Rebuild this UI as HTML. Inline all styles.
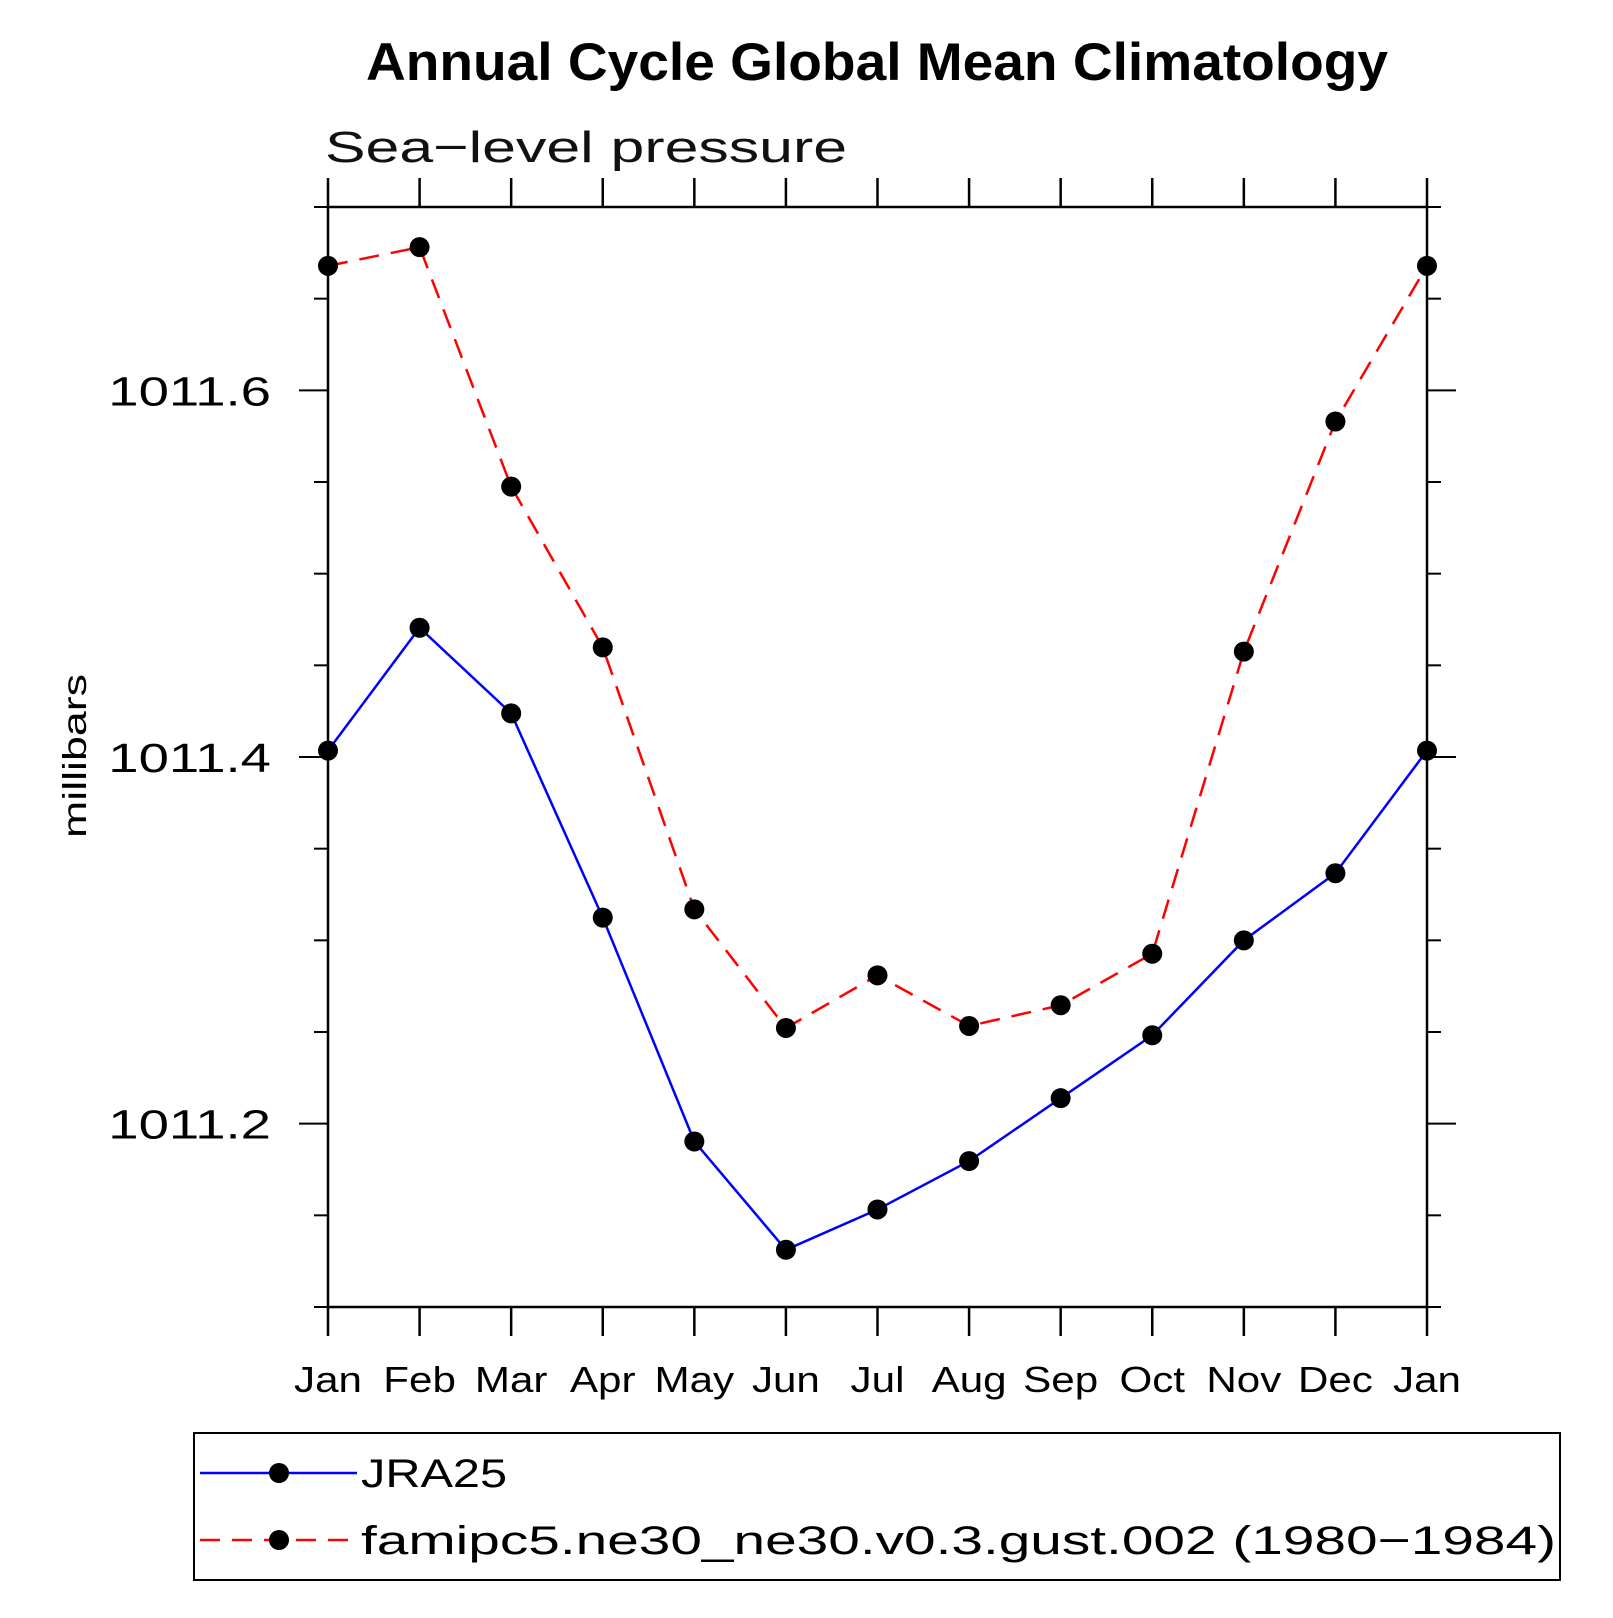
<!DOCTYPE html>
<html><head><meta charset="utf-8"><style>
html,body{margin:0;padding:0;background:#fff;}
svg text{font-family:"Liberation Sans",sans-serif;}
</style></head><body>
<svg id="chart" width="1613" height="1613" viewBox="0 0 1613 1613" xmlns="http://www.w3.org/2000/svg">
<rect x="0" y="0" width="1613" height="1613" fill="#fff"/>
<text x="366" y="80" font-size="53" font-weight="bold" textLength="1022" lengthAdjust="spacingAndGlyphs">Annual Cycle Global Mean Climatology</text>
<text x="325" y="162" font-size="44" fill="#111" textLength="522" lengthAdjust="spacingAndGlyphs">Sea−level pressure</text>
<text transform="translate(86,756) rotate(-90)" text-anchor="middle" font-size="33" textLength="164" lengthAdjust="spacingAndGlyphs">millibars</text>
<g id="axes"></g>
<g id="series"></g>
<g id="legend">
<rect x="194" y="1433" width="1366" height="147" fill="none" stroke="#000" stroke-width="2"/>
<g>
<line x1="200" y1="1473" x2="357" y2="1473" stroke="#0000ff" stroke-width="2.5"/>
<circle cx="279" cy="1473" r="10"/>
<text x="361" y="1487" font-size="40" textLength="146" lengthAdjust="spacingAndGlyphs">JRA25</text>
</g>
<g>
<line x1="200" y1="1540" x2="357" y2="1540" stroke="#ff0000" stroke-width="2.5" stroke-dasharray="20,12"/>
<circle cx="279" cy="1540" r="10"/>
<text x="361" y="1554" font-size="40" textLength="1195" lengthAdjust="spacingAndGlyphs">famipc5.ne30_ne30.v0.3.gust.002 (1980−1984)</text>
</g>
</g>
</svg>
<script>
const months = ["Jan","Feb","Mar","Apr","May","Jun","Jul","Aug","Sep","Oct","Nov","Dec","Jan"];
const jra25 = [1011.4035,1011.4705,1011.4238,1011.3124,1011.1903,1011.1312,1011.1532,1011.1796,1011.2139,1011.2482,1011.3000,1011.3366,1011.4035];
const famipc5 = [1011.6679,1011.6781,1011.5475,1011.4598,1011.3169,1011.2522,1011.2809,1011.2533,1011.2646,1011.2927,1011.4575,1011.5830,1011.6679];
const yTickValues = [1011.2,1011.4,1011.6];
const yTickLabels = ["1011.2","1011.4","1011.6"];
const yMin = 1011.1, yMax = 1011.7;

const NS="http://www.w3.org/2000/svg";
const L=328,R=1427,T=207,B=1307;
function xs(i){return L+(R-L)*i/(months.length-1);}
function ys(v){return B-(B-T)*(v-yMin)/(yMax-yMin);}
function mk(tag,attrs,parent){const e=document.createElementNS(NS,tag);for(const k in attrs)e.setAttribute(k,attrs[k]);parent.appendChild(e);return e;}
function stretch(t,f){const w=t.getComputedTextLength();t.setAttribute('textLength',(w*f).toFixed(1));t.setAttribute('lengthAdjust','spacingAndGlyphs');}
const axes=document.getElementById('axes');
const frame=mk('rect',{x:L,y:T,width:R-L,height:B-T,fill:'none',stroke:'#000','stroke-width':2.5},axes);


months.forEach((m,i)=>{
  const x=xs(i);
  const t1=mk('line',{x1:x,y1:B,x2:x,y2:B+29,stroke:'#000','stroke-width':2.5},axes);
  
  
  const t2=mk('line',{x1:x,y1:T,x2:x,y2:T-29,stroke:'#000','stroke-width':2.5},axes);
  
  
  const lb=mk('text',{x:x,y:1392,'text-anchor':'middle','font-size':36},axes);
  lb.textContent=m;
  
  
  stretch(lb,1.17);
});
for(let k=0;k<=12;k++){
  const v=yMin+k*0.05;
  const y=ys(v);
  const major=yTickValues.some(t=>Math.abs(t-v)<1e-6);
  const len=major?29:14;
  const a=mk('line',{x1:L-len,y1:y,x2:L,y2:y,stroke:'#000','stroke-width':2},axes);
  
  
  const b=mk('line',{x1:R,y1:y,x2:R+len,y2:y,stroke:'#000','stroke-width':2},axes);
  
  
}
yTickValues.forEach((v,i)=>{
  const t=mk('text',{x:271,y:ys(v)+15,'text-anchor':'end','font-size':41},axes);
  t.textContent=yTickLabels[i];
  
  
  stretch(t,1.33);
});
const series=document.getElementById('series');
function draw(vals,color,dash,name){
  const pts=vals.map((v,i)=>xs(i)+','+ys(v)).join(' ');
  const pl=mk('polyline',{points:pts,fill:'none',stroke:color,'stroke-width':2.5},series);
  if(dash)pl.setAttribute('stroke-dasharray',dash);
  
  
  vals.forEach((v,i)=>{
    const c=mk('circle',{cx:xs(i),cy:ys(v),r:10,fill:'#000'},series);
    
    
  });
}
draw(famipc5,'#ff0000','20,12','famipc5');
draw(jra25,'#0000ff',null,'jra25');
</script>
</body></html>
